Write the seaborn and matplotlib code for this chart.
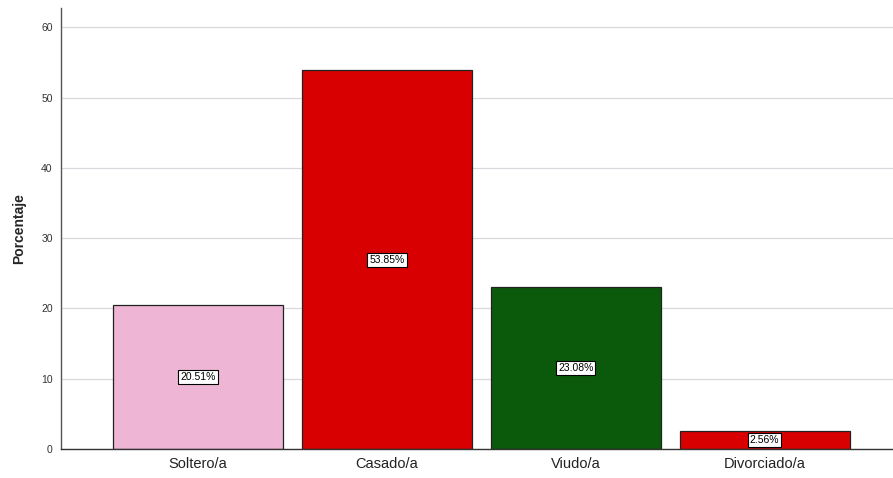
import matplotlib
matplotlib.use("Agg")
import matplotlib.pyplot as plt
import seaborn as sns
import pandas as pd

categories = ["Soltero/a", "Casado/a", "Viudo/a", "Divorciado/a"]
values = [20.51, 53.85, 23.08, 2.56]
labels = ["20.51%", "53.85%", "23.08%", "2.56%"]
colors = ["#EFB5D5", "#D80000", "#0B5A0B", "#D80000"]
yticks = [0, 10, 20, 30, 40, 50, 60]

sns.set_theme(style="white")
plt.rcParams['font.family'] = ['Liberation Sans', 'DejaVu Sans']

df = pd.DataFrame({"cat": categories, "val": values})

fig = plt.figure(figsize=(8.93, 4.78), dpi=100)
ax = fig.add_axes([0.0683, 0.0607, 0.9317, 0.922])

sns.barplot(data=df, x="cat", y="val", hue="cat", palette=colors, legend=False,
            saturation=1, width=0.9, edgecolor="#222222", linewidth=0.9, ax=ax, zorder=2)

for i, (v, lab) in enumerate(zip(values, labels)):
    ax.text(i, v / 2, lab, ha="center", va="center", fontsize=7.5, color="black", zorder=4,
            bbox=dict(boxstyle="square,pad=0.2", facecolor="white", edgecolor="black", linewidth=0.8))

ax.set_ylim(0, 62.7)
ax.set_xlim(-0.725, 3.68)
ax.set_yticks(yticks)
ax.set_yticklabels([str(t) for t in yticks], fontsize=7.5, color="#333333")
ax.yaxis.grid(True, color="#D8D8DE", linewidth=0.9, zorder=0)
ax.set_axisbelow(True)
ax.tick_params(axis="x", labelsize=10.5, length=0, pad=6, labelcolor="#222222")
ax.tick_params(axis="y", length=0, pad=6)
ax.set_xlabel("")
ax.set_ylabel("Porcentaje", fontsize=10, fontweight="bold", labelpad=11)

for s in ["top", "right"]:
    ax.spines[s].set_visible(False)
ax.spines["left"].set_color("#555555")
ax.spines["bottom"].set_color("#333333")
ax.spines["left"].set_linewidth(1.0)
ax.spines["bottom"].set_linewidth(1.0)

fig.savefig("out.png", dpi=100)
